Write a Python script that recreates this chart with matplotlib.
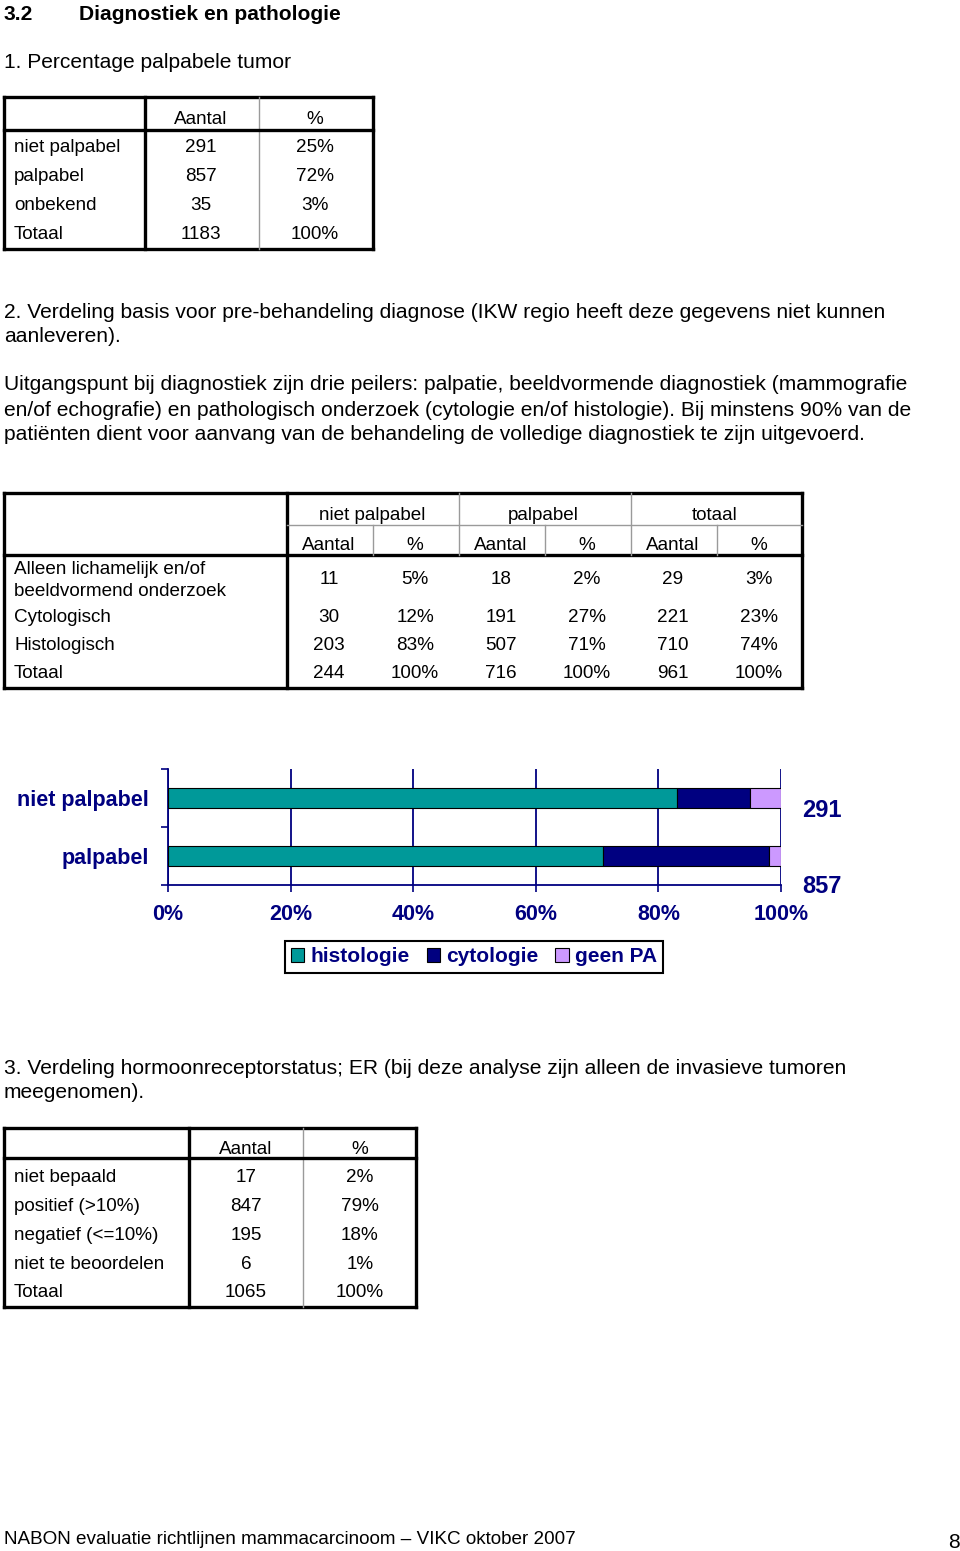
"""Rapport-pagina 3.2 Diagnostiek en pathologie: tabellen + gestapelde staafgrafiek."""
import matplotlib
matplotlib.use('Agg')
import matplotlib.pyplot as plt
from matplotlib.patches import Patch

plt.rcParams['font.family'] = ['Liberation Sans', 'DejaVu Sans']

# tabel 1: percentage palpabele tumor
t1_labels = ['niet palpabel', 'palpabel', 'onbekend', 'Totaal']
t1_counts = [291, 857, 35, 1183]
t1_pct = [25, 72, 3, 100]

# tabel 2: basis voor pre-behandeling diagnose
t2_labels = ['Alleen lichamelijk en/of\nbeeldvormend onderzoek', 'Cytologisch', 'Histologisch', 'Totaal']
t2_groups = ['niet palpabel', 'palpabel', 'totaal']
t2_niet_n = [11, 30, 203, 244]
t2_niet_pct = [5, 12, 83, 100]
t2_palp_n = [18, 191, 507, 716]
t2_palp_pct = [2, 27, 71, 100]
t2_tot_n = [29, 221, 710, 961]
t2_tot_pct = [3, 23, 74, 100]

# staafgrafiek (van onder naar boven)
bar_cats = ['palpabel', 'niet palpabel']
bar_hist = [71, 83]
bar_cyto = [27, 12]
bar_geen = [2, 5]
bar_n = [857, 291]
tick_vals = [0, 20, 40, 60, 80, 100]

# tabel 3: hormoonreceptorstatus ER
t3_labels = ['niet bepaald', 'positief (>10%)', 'negatief (<=10%)', 'niet te beoordelen', 'Totaal']
t3_counts = [17, 847, 195, 6, 1065]
t3_pct = [2, 79, 18, 1, 100]

W, H = 960, 1551
fig = plt.figure(figsize=(W / 100, H / 100), dpi=100)
bg = fig.add_axes([0, 0, 1, 1])
bg.set_xlim(0, W)
bg.set_ylim(H, 0)
bg.axis('off')

FS = 15.1      # lopende tekst
TFS = 13.6     # tabellen en voettekst
THICK = 2.4
GRAY = '#9a9a9a'


def txt(x, y, s, ha='left', fs=FS, **kw):
    bg.text(x, y + 2, s, ha=ha, va='center', fontsize=fs, **kw)


def hline(y, x0, x1, lw=THICK, c='black'):
    bg.plot([x0, x1], [y, y], color=c, lw=lw, solid_capstyle='projecting')


def vline(x, y0, y1, lw=THICK, c='black'):
    bg.plot([x, x], [y0, y1], color=c, lw=lw, solid_capstyle='projecting')


def box(x0, x1, y0, y1):
    hline(y0, x0, x1)
    hline(y1, x0, x1)
    vline(x0, y0, y1)
    vline(x1, y0, y1)


# koppen en tekst
txt(4, 12, '3.2', fontweight='bold')
txt(79, 12, 'Diagnostiek en pathologie', fontweight='bold')
txt(4, 60, '1. Percentage palpabele tumor')
txt(4, 310, '2. Verdeling basis voor pre-behandeling diagnose (IKW regio heeft deze gegevens niet kunnen')
txt(4, 335, 'aanleveren).')
txt(4, 383, 'Uitgangspunt bij diagnostiek zijn drie peilers: palpatie, beeldvormende diagnostiek (mammografie')
txt(4, 408, 'en/of echografie) en pathologisch onderzoek (cytologie en/of histologie). Bij minstens 90% van de')
txt(4, 432, 'patiënten dient voor aanvang van de behandeling de volledige diagnostiek te zijn uitgevoerd.')
txt(4, 1066, '3. Verdeling hormoonreceptorstatus; ER (bij deze analyse zijn alleen de invasieve tumoren')
txt(4, 1090, 'meegenomen).')
txt(4, 1538, 'NABON evaluatie richtlijnen mammacarcinoom \u2013 VIKC oktober 2007', fs=TFS)
txt(960, 1540, '8', ha='right')

# tabel 1
box(4, 373, 97, 249)
vline(145, 97, 249)
vline(259, 97, 249, lw=1, c=GRAY)
hline(130, 4, 373)
txt(201, 117, 'Aantal', ha='center', fs=TFS)
txt(315, 117, '%', ha='center', fs=TFS)
for i, (lab, n, p) in enumerate(zip(t1_labels, t1_counts, t1_pct)):
    y = 146 + i * 28.7
    txt(14, y, lab, fs=TFS)
    txt(201, y, str(n), ha='center', fs=TFS)
    txt(315, y, f'{p}%', ha='center', fs=TFS)

# tabel 2
box(4, 802, 493, 688)
vline(287, 493, 688)
hline(555, 4, 802)
hline(525, 287, 802, lw=1, c=GRAY)
for x in (459, 631):
    vline(x, 493, 555, lw=1, c=GRAY)
for x in (373, 545, 717):
    vline(x, 525, 555, lw=1, c=GRAY)
col_x = [329, 415, 501, 587, 673, 759]
for g, gx in zip(t2_groups, (372, 543, 715)):
    txt(gx, 514, g, ha='center', fs=TFS)
for j, cx in enumerate(col_x):
    txt(cx, 543, 'Aantal' if j % 2 == 0 else '%', ha='center', fs=TFS)
row_y = [578, 615, 643, 672]
cols = [t2_niet_n, t2_niet_pct, t2_palp_n, t2_palp_pct, t2_tot_n, t2_tot_pct]
for i, lab in enumerate(t2_labels):
    if '\n' in lab:
        a, b = lab.split('\n')
        txt(14, 568, a, fs=TFS)
        txt(14, 590, b, fs=TFS)
    else:
        txt(14, row_y[i], lab, fs=TFS)
    for j, (cx, col) in enumerate(zip(col_x, cols)):
        s = str(col[i]) if j % 2 == 0 else f'{col[i]}%'
        txt(cx, row_y[i], s, ha='center', fs=TFS)

# tabel 3
box(4, 416, 1128, 1307)
vline(189, 1128, 1307)
vline(303, 1128, 1307, lw=1, c=GRAY)
hline(1158, 4, 416)
txt(246, 1147, 'Aantal', ha='center', fs=TFS)
txt(360, 1147, '%', ha='center', fs=TFS)
for i, (lab, n, p) in enumerate(zip(t3_labels, t3_counts, t3_pct)):
    y = 1176 + i * 28.7
    txt(14, y, lab, fs=TFS)
    txt(246, y, str(n), ha='center', fs=TFS)
    txt(360, y, f'{p}%', ha='center', fs=TFS)

# staafgrafiek
NAVY = '#000080'
c_hist, c_cyto, c_geen = '#009999', '#000080', '#cc99ff'
ax = fig.add_axes([168 / W, 1 - 885 / H, 613 / W, 116 / H])
ypos = list(range(len(bar_cats)))
left2 = [a + b for a, b in zip(bar_hist, bar_cyto)]
kw = dict(height=0.36, edgecolor='black', linewidth=0.8, zorder=3)
ax.barh(ypos, bar_hist, color=c_hist, **kw)
ax.barh(ypos, bar_cyto, left=bar_hist, color=c_cyto, **kw)
ax.barh(ypos, bar_geen, left=left2, color=c_geen, **kw)
ax.set_xlim(0, 100)
ax.set_ylim(-0.5, len(bar_cats) - 0.5)
ax.set_xticks(tick_vals)
ax.set_xticklabels([f'{v}%' for v in tick_vals], fontsize=15.5, fontweight='bold', color=NAVY)
ax.set_yticks(ypos)
ax.set_yticklabels(bar_cats, fontsize=15.5, fontweight='bold', color=NAVY)
ax.set_yticks([-0.5, 0.5, 1.5], minor=True)
ax.tick_params(axis='y', which='major', length=0, pad=14)
ax.tick_params(axis='y', which='minor', length=5, color=NAVY, width=1.2)
ax.tick_params(axis='x', length=5, color=NAVY, width=1.2, pad=9)
ax.grid(axis='x', color=NAVY, lw=1.3, zorder=0)
for s in ('top', 'right'):
    ax.spines[s].set_visible(False)
for s in ('left', 'bottom'):
    ax.spines[s].set_color(NAVY)
    ax.spines[s].set_linewidth(1.3)
for yi, n, dy in zip(ypos, bar_n, (-0.52, -0.21)):
    ax.text(103.5, yi + dy, str(n), ha='left', va='center', fontsize=17,
            fontweight='bold', color=NAVY, clip_on=False)

handles = [Patch(facecolor=c, edgecolor='black', lw=0.8) for c in (c_hist, c_cyto, c_geen)]
leg = fig.legend(handles, ['histologie', 'cytologie', 'geen PA'], loc='center',
                 bbox_to_anchor=(474 / W, 1 - 957 / H), ncol=3, frameon=True,
                 fancybox=False, edgecolor='black', framealpha=1,
                 handlelength=0.65, handleheight=0.65, handletextpad=0.3,
                 columnspacing=0.8, borderpad=0.3,
                 prop={'size': 15, 'weight': 'bold'})
leg.get_frame().set_linewidth(1.5)
for t in leg.get_texts():
    t.set_color(NAVY)

fig.savefig('out.png', dpi=100)
